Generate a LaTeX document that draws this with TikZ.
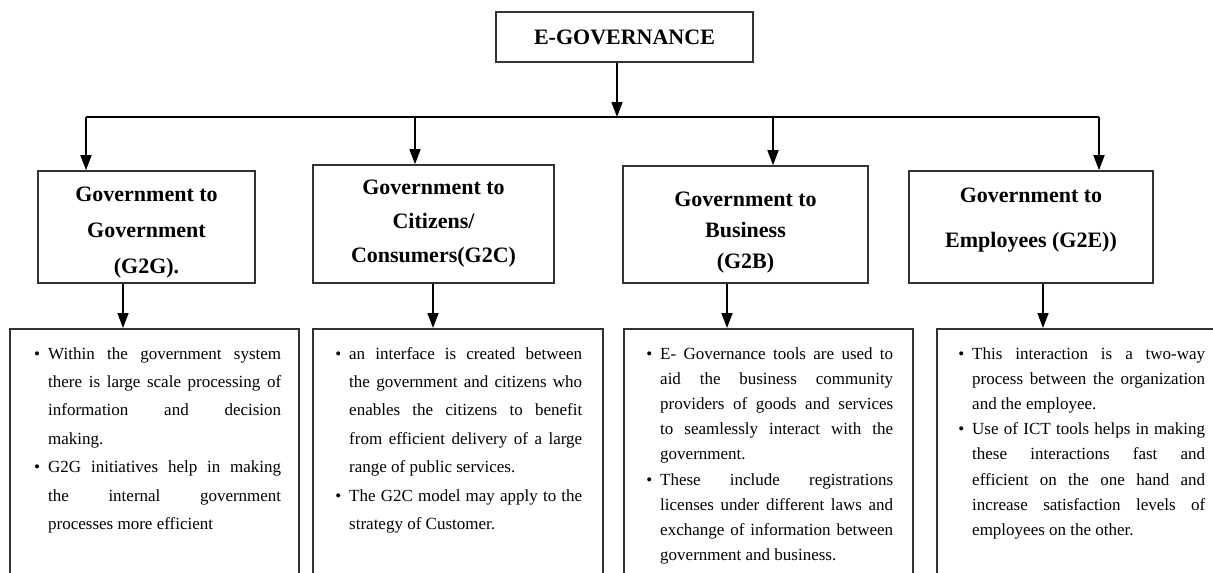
\documentclass[tikz,border=0pt]{standalone}
\usepackage{fontspec}
\setmainfont{Liberation Serif}
\usetikzlibrary{arrows.meta,positioning}

\tikzset{
  arr/.style={-{Triangle[length=15pt,width=11pt]}, line width=1.6pt},
  headbox/.style={draw=black!80, line width=1.6pt, align=center, inner sep=0pt,
    font=\bfseries\fontsize{22}{34}\selectfont},
  detail/.style={draw=black!80, line width=1.6pt, inner sep=0pt, anchor=north west, minimum height=270pt},
  bodytxt/.style={text width=248pt, align=justify, inner sep=0pt, anchor=base west,
    font=\fontsize{17}{28.4}\selectfont},
}
\newcommand{\detailsetup}{\leftskip=15pt\tolerance=10000\hbadness=10000\hyphenpenalty=10000\exhyphenpenalty=10000}
\newcommand{\firstbitem}{\noindent\llap{\textbullet\hspace{8pt}}}
\newcommand{\bitem}{\par\noindent\llap{\textbullet\hspace{8pt}}}
\newcommand{\toppad}[1]{\rule{0pt}{#1}}
\newcommand{\botpad}[1]{\rule[-#1]{0pt}{0pt}}

\begin{document}
\begin{tikzpicture}[x=1pt, y=-1pt]
  \useasboundingbox (0,0) rectangle (1213,573);
  \clip (0,0) rectangle (1213,573);

  % top
  \node[headbox, minimum width=257pt, minimum height=50pt] (egov) at (624.5,37) {E-GOVERNANCE};

  % the four kinds
  \node[headbox, minimum width=217pt, minimum height=112pt, font=\bfseries\fontsize{22}{36}\selectfont] (g2g) at (146.5,227) {\toppad{25pt}Government to\\Government\\(G2G).};
  \node[headbox, minimum width=241pt, minimum height=118pt] (g2c) at (433.5,224) {Government to\\Citizens/\\Consumers(G2C)};
  \node[headbox, minimum width=245pt, minimum height=117pt, font=\bfseries\fontsize{22}{31}\selectfont] (g2b) at (745.5,224.5) {\toppad{31pt}Government to\\Business\\(G2B)};
  \node[headbox, minimum width=244pt, minimum height=112pt, font=\bfseries\fontsize{22}{45}\selectfont] (g2e) at (1031,227) {Government to\\Employees (G2E))\botpad{19pt}};

  % bus
  \coordinate (hub) at (617,117);
  \coordinate (b1) at (86,117);
  \coordinate (b2) at (415,117);
  \coordinate (b3) at (773,117);
  \coordinate (b4) at (1099,117);
  \draw[line width=1.6pt] (b1) -- (b4);
  \draw[arr] (hub |- egov.south) -- (hub);
  \foreach \b/\n in {b1/g2g, b2/g2c, b3/g2b, b4/g2e}
    \draw[arr] (\b) -- (\b |- \n.north);

  % detail boxes
  \node[detail, minimum width=289pt] (d1) at (9,328) {};
  \node[detail, minimum width=290pt] (d2) at (312,328) {};
  \node[detail, minimum width=289pt] (d3) at (623,328) {};
  \node[detail, minimum width=300pt] (d4) at (936,328) {};

  \coordinate (c1) at (123,0);
  \coordinate (c2) at (433,0);
  \coordinate (c3) at (727,0);
  \coordinate (c4) at (1043,0);
  \draw[arr] (c1 |- g2g.south) -- (c1 |- d1.north);
  \draw[arr] (c2 |- g2c.south) -- (c2 |- d2.north);
  \draw[arr] (c3 |- g2b.south) -- (c3 |- d3.north);
  \draw[arr] (c4 |- g2e.south) -- (c4 |- d4.north);

  \node[bodytxt] (t1) at (33,359) {\detailsetup
    \firstbitem Within the government system\linebreak there is large scale processing of\linebreak information and decision\linebreak making.
    \bitem G2G initiatives help in making\linebreak the internal government\linebreak processes more efficient\par};
  \node[bodytxt] (t2) at (334,359) {\detailsetup
    \firstbitem an interface is created between\linebreak the government and citizens who\linebreak enables the citizens to benefit\linebreak from efficient delivery of a large\linebreak range of public services.
    \bitem The G2C model may apply to the\linebreak strategy of Customer.\par};
  \node[bodytxt, font=\fontsize{17}{25.2}\selectfont] (t3) at (645,359) {\detailsetup
    \firstbitem E- Governance tools are used to\linebreak aid the business community\linebreak providers of goods and services\linebreak to seamlessly interact with the\linebreak government.
    \bitem These include registrations\linebreak licenses under different laws and\linebreak exchange of information between\linebreak government and business.\par};
  \node[bodytxt, font=\fontsize{17}{25.2}\selectfont] (t4) at (957,359) {\detailsetup
    \firstbitem This interaction is a two-way\linebreak process between the organization\linebreak and the employee.
    \bitem Use of ICT tools helps in making\linebreak these interactions fast and\linebreak efficient on the one hand and\linebreak increase satisfaction levels of\linebreak employees on the other.\par};
\end{tikzpicture}
\end{document}
